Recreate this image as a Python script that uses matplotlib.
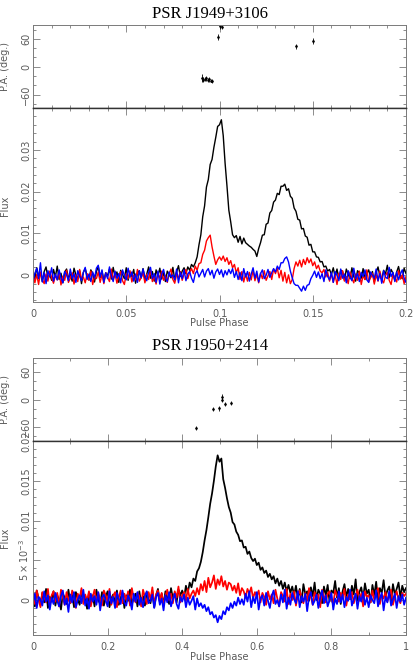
import numpy as np
import matplotlib
matplotlib.use("Agg")
import matplotlib.pyplot as plt
from matplotlib.ticker import MultipleLocator, FixedLocator, FixedFormatter

# ---- PSR J1949+3106 : profiles, units of 1e-4, bins of 0.001 in phase ----
flux_I_top = [
    12, -8, 18, -3, 6, -15, 9, 20, -6, 2, -12, 14, -4, 22, -10, 5, -18, 8, 15, -7,
    3, -14, 17, 1, -9, 11, -20, 7, 16, -2, -11, 13, 4, -16, 9, 21, -5, 10, -13, 6,
    -1, 15, -9, 19, -4, 8, -17, 12, 2, -8, 18, -12, 7, -3, 14, -19, 5, 11, -6, 16,
    -10, 3, 20, -7, 9, -14, 13, -2, 17, -9, 6, -15, 10, 1, -6, 19, -11, 8, 23, -3,
    10, 18, 4, 20, 12, 26, 20,
    30, 44, 73, 97, 140, 166, 211, 229, 265, 277, 306, 330, 356, 360, 372, 334, 268, 214, 156, 128,
    97, 90, 95, 79, 93, 75, 89, 78, 74, 70, 67, 62, 58, 45,
    64, 78, 96, 97, 122, 125, 149, 155, 175, 180, 196, 193, 213, 213, 218, 203, 207, 189, 184, 161,
    153, 134, 132, 111, 112, 94, 91, 72, 74, 56, 56, 44, 43, 32, 33, 20, 22, 10, 14, 2,
    18, -4, 15, -8, 12,
    9, -12, 15, 2, -8, 18, -3, -14, 11, 6, -7, 16, -10, 4, 13, -5, 9, -16, 7, 20,
    -2, -9, 12, 3, 24, -6, 14, 5, -12, 8, 21, -1, -8, 17, 4,
]
flux_L_top = [
    5, -18, 2, -22, 8, -10, -20, 3, -14, 10, -6, -19, 0, -11, 9, -23, -2, -12, 12, -17,
    -7, 6, -21, 1, -15, 14, -9, -4, -18, 4, -12, 10, -22, -2, -8, 8, -17, 2, -20, 6,
    -5, -15, 15, -10, 3, -19, -1, 9, -13, -22, 4, -8, 11, -16, 0, -11, 14, -14, -6, 7,
    -18, 2, -10, 12, -15, -3, -21, 5, -7, 10, -12, 0, -17, 4, 15, -10, -19, 2, -6, 9,
    -12, 3, 14, -8, 7, 16, 4, 22, 12, 28, 30, 50, 60, 82, 90, 96, 68, 46, 26, 37,
    44, 36, 46, 33, 42, 26, 35, 18, 26, 6, 18, -10, 9, -16, 4, -14, 7, -11, 12, -13,
    2, -18, 5, -8, 11, -12, -1, 9, -10, 15, 4, 17, -6, 12, -14, 7, -18, 1, -20, -10,
    16, 32, 22, 36, 20, 38, 26, 42, 30, 39, 23, 32, 16, 24, 10, 6, 14, -4, 7, -14,
    4, -17, 1, -22, 5, -10, 11, -14, -3, -20, 8, -7, -18, 3, -12, 10, -22, -1, -10, 13,
    -16, -6, 5, -21, 1, -14, 10, -10, -18, -1, 7, -12, -22, 3, -6, -16, 11, -9, 1, -20, -3,
]
flux_V_top = [
    -14, 4, 17, -8, 30, -16, 7, -20, 11, -4, 18, -14, 3, -11, 13, -6, -18, 9, 1, -13,
    15, -8, 4, -17, 11, -3, -13, 7, 19, -10, 3, -15, 8, -6, 17, 24, -4, 13, -17, 6,
    -8, 20, -2, -15, 10, -7, 4, -18, 13, 0, -11, 17, -4, 8, -14, 3, -17, 11, -6, 15,
    -3, -13, 7, 19, -8, 4, -17, 10, -21, 3, 14, -7, -15, 8, -4, 1, -11, 15, -18, 7,
    -8, 13, -13, 3, 9, -7, -17, 4, 11, -4,
    5, 14, -4, 10, 16, 1, 12, -7, 8, 15, 2, 13, -4, 11, 1, 14, 4, 16, -5, 9, -10,
    7, -13, 16, -4, 9, -14, 3, 18, -7, 10, -16, 4, 13, -8, 0, 14, -5,
    6, 16, 8, 22, 14, 30, 30, 40, 44, 32, 10, -6, -20, -24, -24, -31, -38, -26, -36, -24,
    -22, -8, 0, 10, -5, 8,
    -8, 4, -15, 13, -3, -11, 7, -17, 9, 0, -13, 15, -7, 3, -18, 11, -4, -13, 17, -8,
    4, -15, 7, -3, 13, -11, -17, 8, 0, -7, 15, -13, 4, -19, 11, -4, -8, 19, -3, 7,
    -15, 8, -11, 3, 13, -7, -17,
]
pa_phase_top = [0.0905, 0.0913, 0.0921, 0.0929, 0.0937, 0.0945, 0.0953, 0.0961,
                0.0990, 0.1003, 0.1011, 0.1412, 0.1501]
pa_top = [-24, -28, -27, -25, -28, -27, -30, -31, 64, 87, 86, 44, 55]
pa_err_top = [8, 5, 4, 5, 4, 5, 4, 4, 6, 5, 5, 6, 6]

# ---- PSR J1950+2414 : profiles, units of 1e-4, bins of 0.005 in phase ----
flux_I_bot = [
    5, -8, 12, 2, -6, 9, -3, 14, -10, 4, -2, 11, -7, 6, 0, -12, 8, 3, -5, 13,
    -4, 7, -9, 10, 1, -6, 12, -2, 5, -11, 9, -3, 6, -8, 13, 0, -5, 10, -7, 4,
    11, -9, 2, 7, -4, 12, -6, 3, 9, -10, 6, -1, 13, -5, 2, 8, -8, 11, -3, 5,
    -7, 10, 1, -4, 12, -9, 6, 14, -2, 8, -6, 11, 3, -5, 15, 2, 9, -3, 13, 6,
    12, 3, 18, 9, 22, 16, 27, 24, 36, 40, 48, 60, 75, 88, 104, 121, 134, 150, 168, 182,
    174, 178, 152, 141, 128, 117, 110, 98, 95, 86, 82, 74, 75, 66, 67, 58, 61, 53, 49, 52,
    44, 47, 38, 41, 34, 37, 29, 33, 26, 30, 21, 27, 18, 24, 14, 22, 11, 19, 9, 17, 6,
    18, 2, 14, -3, 20, 7, 11, -1, 16, 5, 22, 0, 13, 8, -4, 17, 6, 19, -2, 12,
    9, 24, 3, 15, -5, 11, 20, 4, 14, 1, 18, 7, 26, -1, 10, 16, 2, 21, 8, 13,
    -3, 19, 6, 23, 0, 15, 9, 25, 4, 12, 17, -2, 20, 7, 14, 22, 3, 18, 10, 15,
]
flux_L_bot = [
    8, -5, 12, 1, -9, 10, 4, -3, 14, -7, 6, 11, -2, 9, -8, 13, 3, -6, 10, 0,
    -4, 12, 5, -10, 8, 2, 15, -5, 7, -1, 11, -8, 4, 13, -3, 9, 1, -7, 12, 6,
    -2, 14, -6, 5, 10, -9, 3, 12, -4, 8, 0, 11, -7, 15, 2, -3, 9, 5, -8, 13,
    4, -5, 10, 1, 16, -6, 7, 12, -2, 9, -7, 5, 13, 0, 8, -4, 11, 3, 17, -3,
    6, 10, -1, 14, 2, 8, 12, 5,
    15, 7, 20, 12, 24, 10, 28, 16, 22, 31, 14, 26, 19, 30, 17, 24, 13, 22, 20, 12,
    18, 9, 21, 6, 15, 11, 3, 14, 8, 16, 2, 10, 5,
    12, -3, 9, 4, -6, 11, 1, 7, -4, 13, 2, -8, 10, 5, -2, 14, -5, 8, 0, 11,
    -7, 6, 12, 3, -4, 9, -1, 15, 4, -6, 10, 2, 7, -9, 13, 5, -3, 8, 11, 0,
    -5, 12, 6, -2, 9, 3, 14, -7, 7, 1, 10, -4, 5, 13, -1, 8, -8, 11, 4, 6,
    -3, 12, 0, 9, 15, -5, 7, 2, 10, -2, 6, 13, -6, 4, 11, 1, -4, 9, 5, 8,
]
flux_V_bot = [
    -3, 8, -10, 4, 1, -7, 11, -2, 6, -12, 3, -5, 9, -1, -8, 5, 12, -6, 2, -15,
    7, -3, 10, -9, 0, 6, -4, 13, -7, 2, -11, 8, -2, 5, -6, 10, -13, 3, 7, -1,
    -8, 11, -4, 4, -10, 9, 1, -5, 12, -3, -7, 6, 0, -12, 8, -2, 10, -6, 3, -9,
    5, 11, -4, -1, 7, -10, 4, 9, -6, 2, -13, 6, -3, 10, -8, 1, 8, -5, -11, 4,
    -2, 7, -9, 3, -6, -1, 5, -12, 2, -8, -4, -10,
    -6, -14, -9, -18, -15, -22, -19, -28, -20, -24, -14, -18, -9, -13, -4, -10, -2, -7, 3, -5, 1,
    -6, 8, -2, 11, -9, 4, -4, 10, -12, 2, 6, -7, 9, -1, -10, 5, 12, -5, 0, -8,
    7, -3, 13, -11, 3, -6, 9, 1, -4, 11, -9, 5, -2, 8, -14, 4, 10, -6, -1, 7,
    -10, 3, 12, -4, 6, -8, 0, 9, -12, 2, -5, 11, -3, 7, -9, 4, -1, 13, -7, 1,
    8, -11, 5, -2, 10, -6, 3, -9, 6, 0, -4, 12, -8, 2, 9, -13, 4, -3, 11, -7,
    1, 8, -10, 5, -2, 7, -6, 3,
]
pa_phase_bot = [0.437, 0.483, 0.4995, 0.507, 0.508, 0.515, 0.530]
pa_bot = [-62, -20, -19, 6, 0, -9, -7]
pa_err_bot = [5, 5, 5, 6, 5, 5, 5]

FRAME = '#7a7a7a'
LABEL = '#5a5a5a'
FS = 7


def style(ax):
    ax.tick_params(which='both', direction='in', top=True, right=True,
                   color=FRAME, labelcolor=LABEL, labelsize=FS, width=0.6)
    ax.tick_params(which='major', length=5)
    ax.tick_params(which='minor', length=2.5)
    ax.tick_params(axis='y', pad=1.5)
    for s in ax.spines.values():
        s.set_color(FRAME)
        s.set_linewidth(0.7)


def pa_panel(ax, ph, pa, err, xmaj, xmin, xlim):
    ax.errorbar(ph, pa, yerr=err, fmt='.', color='black', ms=1.8,
                elinewidth=0.6, capsize=0)
    ax.set_xlim(*xlim)
    ax.set_ylim(-90, 90)
    ax.xaxis.set_major_locator(MultipleLocator(xmaj))
    ax.xaxis.set_minor_locator(MultipleLocator(xmin))
    ax.yaxis.set_major_locator(FixedLocator([-60, 0, 60]))
    ax.yaxis.set_major_formatter(FixedFormatter(['\u221260', '0', '60']))
    ax.yaxis.set_minor_locator(MultipleLocator(20))
    style(ax)
    ax.tick_params(labelbottom=False)
    ax.spines['bottom'].set_color('#333333')
    ax.spines['bottom'].set_linewidth(1.0)
    plt.setp(ax.get_yticklabels(), rotation=90, va='center')
    ax.set_ylabel('P.A. (deg.)', fontsize=FS, color=LABEL)
    ax.yaxis.set_label_coords(-0.062, 0.5)


def flux_panel(ax, step, I, L, V, ylim, ymin, xmin, xlim, lw):
    for series, col in ((I, 'black'), (L, 'red'), (V, 'blue')):
        vals = np.array(series) * 1e-4
        ax.plot(np.arange(len(vals)) * step, vals, color=col, lw=lw)
    ax.set_xlim(*xlim)
    ax.set_ylim(*ylim)
    ax.xaxis.set_minor_locator(MultipleLocator(xmin))
    ax.yaxis.set_minor_locator(MultipleLocator(ymin))
    style(ax)
    ax.spines['top'].set_color('#333333')
    ax.spines['top'].set_linewidth(1.0)
    ax.tick_params(axis='x', pad=5)
    ax.set_ylabel('Flux', fontsize=FS, color=LABEL)
    ax.yaxis.set_label_coords(-0.062, 0.5)
    ax.set_xlabel('Pulse Phase', fontsize=FS, color=LABEL)


fig = plt.figure(figsize=(4.15, 6.61), dpi=100)

L0, W = 33 / 415, 373 / 415
ax1 = fig.add_axes([L0, 0.8359, W, 0.1263])
ax2 = fig.add_axes([L0, 0.5424, W, 0.2935])
ax3 = fig.add_axes([L0, 0.3328, W, 0.1251])
ax4 = fig.add_axes([L0, 0.0393, W, 0.2935])

pa_panel(ax1, pa_phase_top, pa_top, pa_err_top, 0.05, 0.01, (0, 0.2))
flux_panel(ax2, 0.001, flux_I_top, flux_L_top, flux_V_top,
           (-0.0065, 0.0399), 0.002, 0.01, (0, 0.2), 1.0)
ax2.xaxis.set_major_locator(FixedLocator([0, 0.05, 0.1, 0.15, 0.2]))
ax2.xaxis.set_major_formatter(FixedFormatter(['0', '0.05', '0.1', '0.15', '0.2']))
ax2.yaxis.set_major_locator(FixedLocator([0, 0.01, 0.02, 0.03]))
ax2.yaxis.set_major_formatter(FixedFormatter(['0', '0.01', '0.02', '0.03']))
plt.setp(ax2.get_yticklabels(), rotation=90, va='center')
ax2.xaxis.set_label_coords(0.5, -0.082)

pa_panel(ax3, pa_phase_bot, pa_bot, pa_err_bot, 0.2, 0.1, (0, 1))
flux_panel(ax4, 0.005, flux_I_bot, flux_L_bot, flux_V_bot,
           (-0.0044, 0.02), 0.001, 0.1, (0, 1), 1.25)
ax4.xaxis.set_major_locator(FixedLocator([0, 0.2, 0.4, 0.6, 0.8, 1.0]))
ax4.xaxis.set_major_formatter(FixedFormatter(['0', '0.2', '0.4', '0.6', '0.8', '1']))
ax4.yaxis.set_major_locator(FixedLocator([0, 0.005, 0.01, 0.015, 0.02]))
ax4.yaxis.set_major_formatter(FixedFormatter(['0', r'$5\times10^{-3}$', '0.01', '0.015', '0.02']))
plt.setp(ax4.get_yticklabels(), rotation=90, va='center')
ax4.xaxis.set_label_coords(0.5, -0.09)

fig.text(0.506, 1 - 14 / 661, 'PSR J1949+3106', family='Liberation Serif',
         fontsize=12, ha='center', va='center')
fig.text(0.506, 1 - 346 / 661, 'PSR J1950+2414', family='Liberation Serif',
         fontsize=12, ha='center', va='center')

fig.savefig('out.png', dpi=100)
